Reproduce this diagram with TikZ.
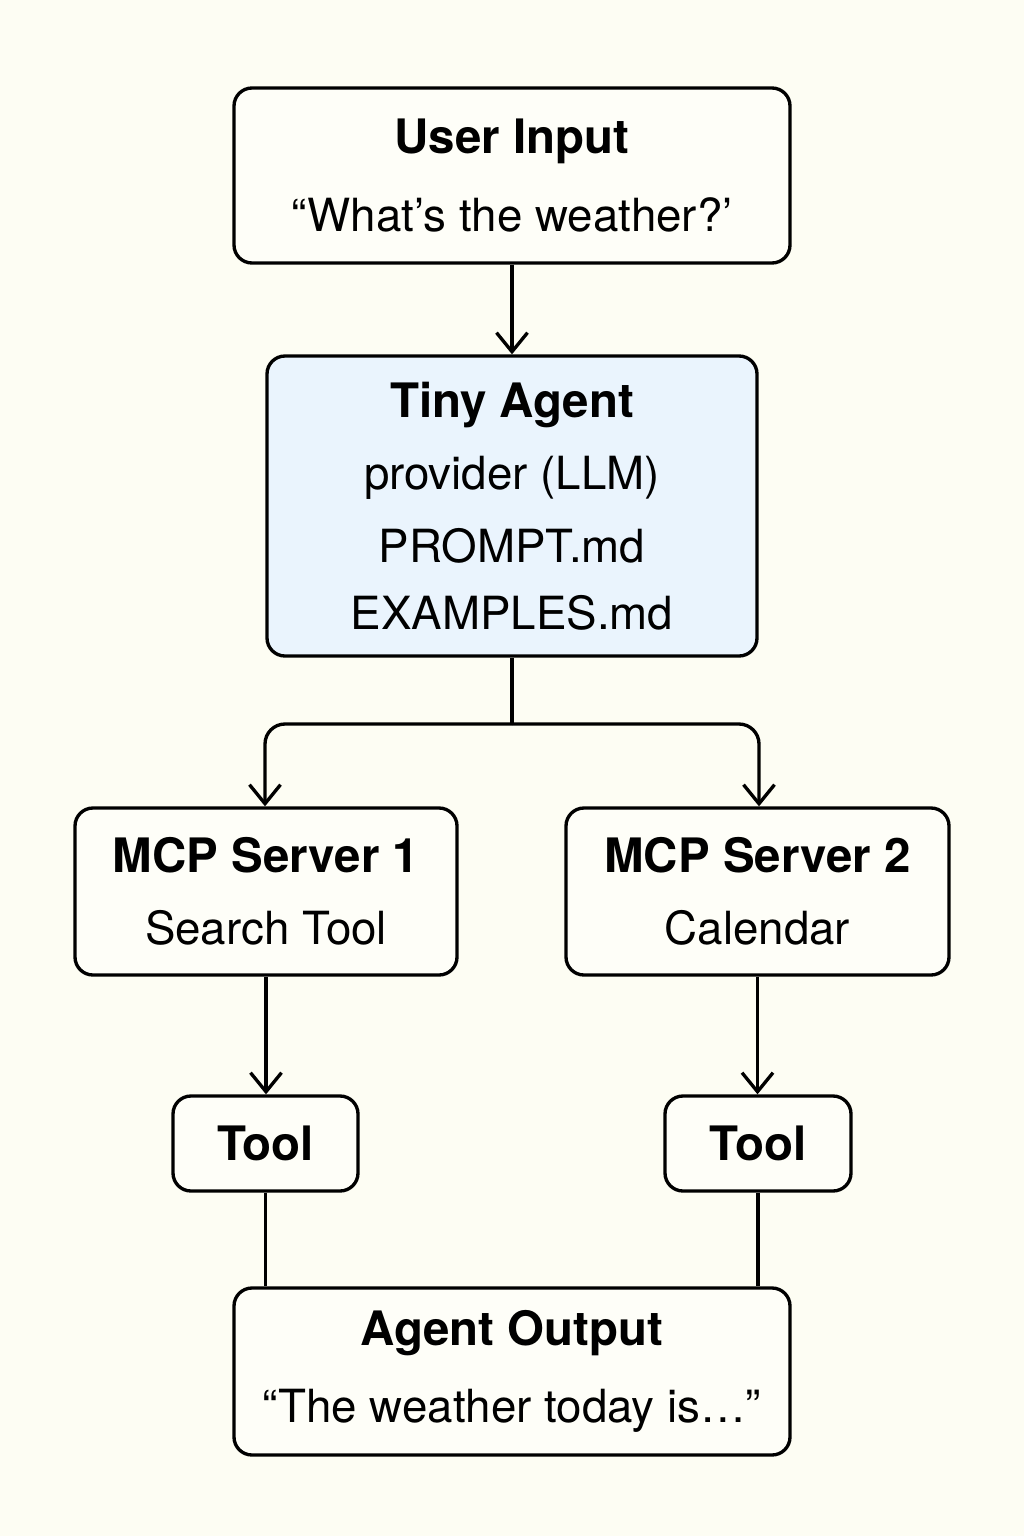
\documentclass[tikz,border=0pt]{standalone}
\usepackage{fontspec}
\setmainfont{TeX Gyre Heros}
\usetikzlibrary{arrows.meta,positioning}
\definecolor{paper}{HTML}{FDFDF3}
\definecolor{agentblue}{HTML}{EAF4FD}
\newcommand{\ttl}{\fontsize{13.5}{16}\selectfont\bfseries}
\newcommand{\bdy}{\fontsize{13}{16}\selectfont}
\tikzset{
  box/.style={draw=black, line width=0.95pt, rounded corners=0.18cm, fill=white!40!paper,
    align=center, inner sep=0pt},
  link/.style={line width=0.95pt, -{Straight Barb[length=1.9mm,width=3.1mm,line width=0.95pt]}},
  plain/.style={line width=0.95pt}
}
\begin{document}
\begin{tikzpicture}
  \fill[paper] (0,0) rectangle (10.24,-15.36);
  \useasboundingbox (0,0) rectangle (10.24,-15.36);
  % boxes
  \node[box, minimum width=5.56cm, minimum height=1.75cm] (input) at (5.12,-1.755)
    {{\ttl User Input}\\[0.3cm]{\bdy ``What's the weather?'}};
  \node[box, fill=agentblue, minimum width=4.9cm, minimum height=3.0cm] (agent) at (5.12,-5.06)
    {{\ttl Tiny Agent}\\[0.25cm]{\bdy provider (LLM)}\\[0.25cm]{\bdy PROMPT.md}\\[0.25cm]{\bdy EXAMPLES.md}};
  \node[box, minimum width=3.82cm, minimum height=1.67cm] (server1) at (2.66,-8.915)
    {{\ttl MCP Server 1}\\[0.3cm]{\bdy Search Tool}};
  \node[box, minimum width=3.83cm, minimum height=1.67cm] (server2) at (7.575,-8.915)
    {{\ttl MCP Server 2}\\[0.3cm]{\bdy Calendar}};
  \node[box, minimum width=1.85cm, minimum height=0.95cm, font=\ttl] (tool1) at (2.655,-11.435) {Tool};
  \node[box, minimum width=1.86cm, minimum height=0.95cm, font=\ttl] (tool2) at (7.58,-11.435) {Tool};
  \node[box, minimum width=5.56cm, minimum height=1.67cm] (output) at (5.12,-13.715)
    {{\ttl Agent Output}\\[0.3cm]{\bdy ``The weather today is…''}};
  % connectors
  \coordinate (split) at (5.12,-7.24);
  \draw[link] (input) -- (agent);
  \draw[plain] (agent.south) -- (split);
  \draw[link, rounded corners=0.2cm] (split) -| ([xshift=-0.01cm]server1.north);
  \draw[link, rounded corners=0.2cm] (split) -| ([xshift=0.015cm]server2.north);
  \draw[link] (server1.south) -- (server1.south |- tool1.north);
  \draw[link] (server2.south) -- (server2.south |- tool2.north);
  \draw[plain] (tool1.south) -- (tool1.south |- output.north);
  \draw[plain] (tool2.south) -- (tool2.south |- output.north);
\end{tikzpicture}
\end{document}
